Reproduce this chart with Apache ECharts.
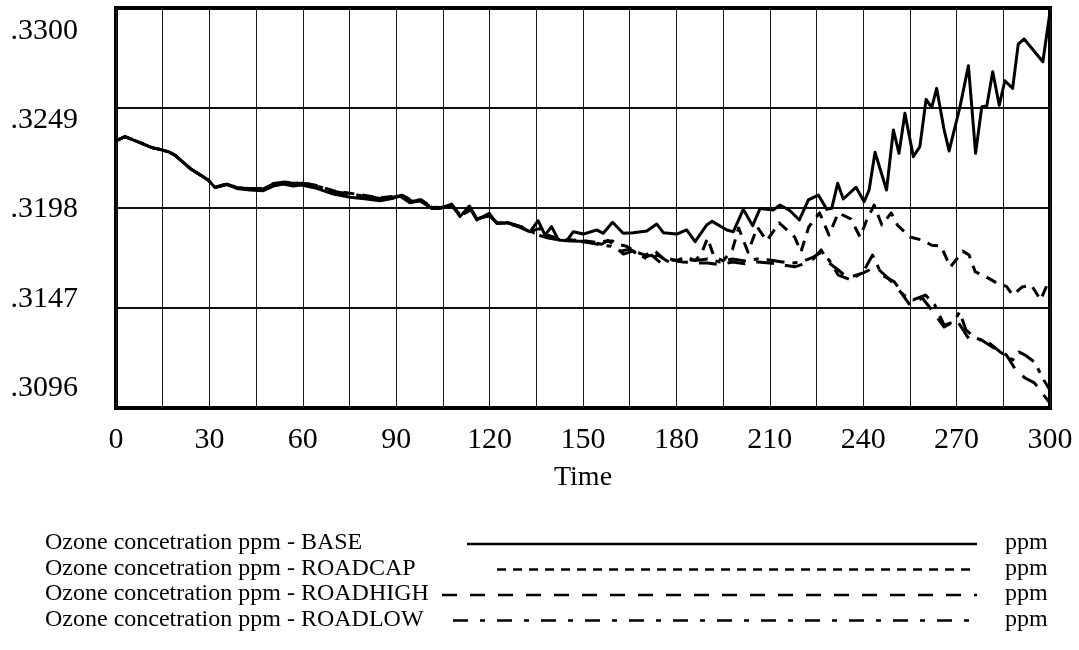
<!DOCTYPE html>
<html>
<head>
<meta charset="utf-8">
<script src="https://cdn.jsdelivr.net/npm/echarts@6/dist/echarts.min.js"></script>
<style>
  html, body { margin: 0; padding: 0; background: #ffffff; }
  #chart { width: 1079px; height: 650px; }
</style>
</head>
<body>
<div id="chart"></div>
<script>
// Ozone concentration runs, time 0..300
const yTickLabels = ['.3096', '.3147', '.3198', '.3249', '.3300'];
const yGridValues = [0.3147, 0.3198, 0.3249];
const timeLabel = 'Time';
const unitLabel = 'ppm';
const seriesNames = [
  'Ozone concetration ppm - BASE',
  'Ozone concetration ppm - ROADCAP',
  'Ozone concetration ppm - ROADHIGH',
  'Ozone concetration ppm - ROADLOW'
];

// [time, ppm]
const base = [
  [0,.32323],[2.9,.32344],[7.7,.32313],[11.5,.32288],[14.1,.32279],[16.8,.32267],[18.9,.32250],[23.8,.32182],
  [29.6,.32123],[31.8,.32084],[35.6,.32101],[38.8,.32080],[43,.32072],[47.3,.32068],[50.5,.32092],[53.7,.32102],
  [56.9,.32092],[59.6,.32097],[64.5,.32080],[69.8,.32051],[75.2,.32035],[80.5,.32026],[84.8,.32017],[89.1,.32030],
  [91.2,.32041],[94.4,.32007],[97.6,.32017],[101.4,.31978],[104.1,.31978],[107.8,.32000],[110.5,.31936],[113.5,.31990],
  [115.9,.31919],[119.9,.31953],[122.3,.31902],[125.5,.31905],[129.8,.31885],[133,.31859],[135.6,.31915],[137.8,.31842],
  [139.9,.31885],[142.1,.31817],[144.8,.31813],[146.9,.31859],[150.1,.31847],[154.4,.31868],[156.5,.31851],[159.5,.31907],
  [162.9,.31851],[166.1,.31854],[170.5,.31863],[173.7,.31898],[175.8,.31854],[180.1,.31847],[183.3,.31868],[186,.31808],
  [189.7,.31893],[191.5,.31912],[196.2,.31868],[198.3,.31859],[201.5,.31973],[204.5,.31890],[206.9,.31978],[211.1,.31970],
  [213.3,.31995],[216.5,.31966],[219.5,.31919],[222.4,.32021],[225.6,.32046],[228.3,.31973],[229.9,.31978],[231.8,.32106],
  [233.6,.32026],[237.7,.32086],[240.3,.32012],[241.9,.32072],[243.8,.32264],[247.5,.32072],[249.7,.32378],[251.5,.32259],
  [253.4,.32463],[256.1,.32242],[258.2,.32293],[260.2,.32534],[262,.32492],[263.6,.32590],[266,.32378],[267.6,.32271],
  [271.1,.32497],[273.8,.32706],[276.1,.32259],[278.1,.32497],[279.7,.32500],[281.6,.32675],[283.7,.32504],[285.5,.32629],
  [288,.32590],[289.8,.32816],[291.7,.32842],[297.7,.32726],[300,.32980]
];

const roadcap = [
  [0,.32323],[2.9,.32344],[7.7,.32313],[11.5,.32288],[14.1,.32279],[16.8,.32267],[18.9,.32250],[23.8,.32182],
  [29.6,.32123],[31.8,.32086],[35.6,.32103],[38.8,.32085],[43,.32078],[47.3,.32075],[50.5,.32100],[53.7,.32110],
  [57,.32106],[60,.32108],[64.5,.32095],[69.8,.32068],[75.2,.32055],[80.5,.32043],[84.8,.32032],[89.1,.32040],
  [92,.32045],[95,.32018],[98,.32022],[101.4,.31985],[104,.31982],[108,.31995],[110.5,.31945],[114,.31975],
  [116,.31925],[120,.31945],[122.3,.31905],[126,.31902],[130,.31885],[133,.31862],[136,.31875],[138,.31845],
  [141,.31830],[144.8,.31818],[148,.31815],[151,.31812],[154,.31805],[157,.31810],[159.5,.31812],[161,.31795],
  [164,.31785],[167,.31755],[170,.31740],[173,.31762],[176,.31720],[180,.31712],[183,.31730],[186,.31712],
  [188,.31745],[190,.31827],[192,.31735],[195,.31710],[198,.31768],[200,.31878],[203,.31755],[206,.31883],
  [209,.31812],[213,.31904],[218,.31832],[220,.31756],[222.5,.31883],[226,.31955],[229,.31842],[232,.31955],
  [236,.31925],[239,.31832],[241,.31914],[243.5,.31995],[246,.31893],[249,.31955],[251,.31893],[255,.31832],
  [259,.31816],[262,.31790],[265,.31786],[268,.31679],[272,.31760],[274,.31740],[276,.31654],[279,.31633],
  [283,.31597],[286,.31580],[288,.31536],[291,.31577],[294,.31587],[297,.31511],[300,.31623]
];

const roadhigh = [
  [0,.32323],[2.9,.32344],[7.7,.32313],[11.5,.32288],[14.1,.32279],[16.8,.32267],[18.9,.32250],[23.8,.32182],
  [29.6,.32123],[31.8,.32084],[35.6,.32100],[38.8,.32082],[43,.32080],[47.3,.32080],[50.5,.32105],[53.7,.32112],
  [57,.32108],[60,.32105],[64.5,.32090],[69.8,.32062],[75.2,.32048],[80.5,.32038],[84.8,.32030],[89.1,.32036],
  [92,.32040],[95,.32012],[98,.32020],[101.4,.31982],[104,.31980],[108,.31990],[110.5,.31942],[114,.31970],
  [116,.31922],[120,.31940],[122.3,.31904],[126,.31900],[130,.31880],[134,.31850],[138,.31830],[142,.31818],
  [146,.31812],[150,.31810],[153,.31805],[156,.31795],[158,.31815],[160,.31790],[163,.31745],[166,.31760],
  [169,.31725],[172,.31740],[175,.31700],[178,.31720],[182,.31705],[186,.31700],[190,.31700],[194,.31690],
  [198,.31705],[202,.31695],[206,.31705],[210,.31700],[214,.31690],[218,.31680],[221,.31695],[224,.31720],
  [226.5,.31766],[229,.31700],[232,.31664],[235,.31623],[240,.31649],[244,.31680],[248,.31623],[252,.31552],
  [255,.31485],[259,.31521],[262,.31460],[266,.31373],[270,.31409],[274,.31312],[278,.31307],[282,.31266],
  [286,.31230],[289,.31154],[292,.31113],[295,.31088],[298,.31026],[300,.30985]
];

const roadlow = [
  [0,.32323],[2.9,.32344],[7.7,.32313],[11.5,.32288],[14.1,.32279],[16.8,.32267],[18.9,.32250],[23.8,.32182],
  [29.6,.32123],[31.8,.32085],[35.6,.32102],[38.8,.32083],[43,.32076],[47.3,.32078],[50.5,.32102],[53.7,.32108],
  [57,.32104],[60,.32106],[64.5,.32092],[69.8,.32065],[75.2,.32050],[80.5,.32040],[84.8,.32028],[89.1,.32038],
  [92,.32042],[95,.32015],[98,.32018],[101.4,.31984],[104,.31981],[108,.31993],[110.5,.31940],[114,.31972],
  [116,.31924],[120,.31942],[122.3,.31906],[126,.31905],[130,.31885],[134,.31855],[138,.31835],[142,.31820],
  [146,.31815],[150,.31808],[153,.31800],[156,.31790],[159,.31785],[162,.31760],[165,.31770],[168,.31745],
  [171,.31715],[174,.31740],[177,.31710],[180,.31705],[183,.31718],[186,.31712],[190,.31720],[194,.31705],
  [198,.31720],[202,.31710],[206,.31720],[210,.31715],[214,.31705],[218,.31700],[221,.31710],[224,.31730],
  [226,.31750],[229,.31715],[232,.31638],[236,.31613],[240,.31654],[243,.31740],[246,.31638],[250,.31603],
  [253,.31536],[256,.31511],[260,.31536],[263,.31485],[266,.31383],[269,.31399],[271,.31450],[273,.31358],
  [276,.31317],[280,.31297],[284,.31246],[288,.31205],[290,.31246],[292,.31230],[295,.31195],[298,.31103],
  [300,.31052]
];

const seriesData = [base, roadcap, roadhigh, roadlow];

// line dash per run: plot strokes and key strokes
const plotDash = ['solid', [11, 8], [18, 11], [18, 8, 5, 8]];
const keyDash = [null, [9, 7], [15, 13], [15, 12, 5, 12]];
const keyStartX = [467, 497, 442, 453];

const serif = '"Liberation Serif", "DejaVu Serif", serif';
const ink = '#000000';

const chart = echarts.init(document.getElementById('chart'), null, { renderer: 'canvas' });

const legendGraphics = [];
seriesNames.forEach(function (name, i) {
  const y = 544 + i * 25.5;
  legendGraphics.push({
    type: 'text', left: 45, top: y - 13,
    style: { text: name, font: '24px ' + serif, fill: ink }
  });
  legendGraphics.push({
    type: 'line',
    shape: { x1: keyStartX[i], y1: y, x2: 977, y2: y },
    style: { stroke: ink, lineWidth: 2.5, lineDash: keyDash[i] || null }
  });
  legendGraphics.push({
    type: 'text', left: 1005, top: y - 13,
    style: { text: unitLabel, font: '24px ' + serif, fill: ink }
  });
});

const option = {
  backgroundColor: '#ffffff',
  animation: false,
  grid: [
    { left: 116, top: 8, width: 934, height: 400, show: true, borderColor: ink, borderWidth: 4, backgroundColor: 'transparent' },
    { left: 116, top: 31, width: 934, height: 357, show: false }
  ],
  xAxis: [
    {
      type: 'value', gridIndex: 0, min: 0, max: 300, interval: 30,
      name: timeLabel, nameLocation: 'middle', nameGap: 56,
      nameTextStyle: { fontFamily: serif, fontSize: 28, color: ink },
      axisLine: { show: false }, axisTick: { show: false },
      axisLabel: { fontFamily: serif, fontSize: 30, color: ink, margin: 17 },
      splitLine: { show: true, lineStyle: { color: '#1a1a1a', width: 1 } },
      minorTick: { show: false, splitNumber: 2 },
      minorSplitLine: { show: true, lineStyle: { color: '#1a1a1a', width: 1 } }
    },
    { type: 'value', gridIndex: 1, show: false, min: 0, max: 1 }
  ],
  yAxis: [
    {
      type: 'value', gridIndex: 0, min: 0.3096, max: 0.3300,
      axisLine: { show: false },
      axisTick: { show: false, customValues: yGridValues },
      axisLabel: { show: false, customValues: yGridValues },
      splitLine: { show: true, lineStyle: { color: '#111111', width: 2 } }
    },
    {
      type: 'category', gridIndex: 1, data: yTickLabels, boundaryGap: false,
      axisLine: { show: false }, axisTick: { show: false }, splitLine: { show: false },
      axisLabel: { interval: 0, fontFamily: serif, fontSize: 30, color: ink, margin: 38 }
    }
  ],
  series: seriesData.map(function (data, i) {
    return {
      name: seriesNames[i], type: 'line', xAxisIndex: 0, yAxisIndex: 0,
      data: data, showSymbol: false, symbol: 'none', smooth: false,
      z: 10 - i,
      lineStyle: { color: ink, width: 3, type: plotDash[i], join: 'round' }
    };
  }),
  graphic: legendGraphics
};

chart.setOption(option);
</script>
</body>
</html>
